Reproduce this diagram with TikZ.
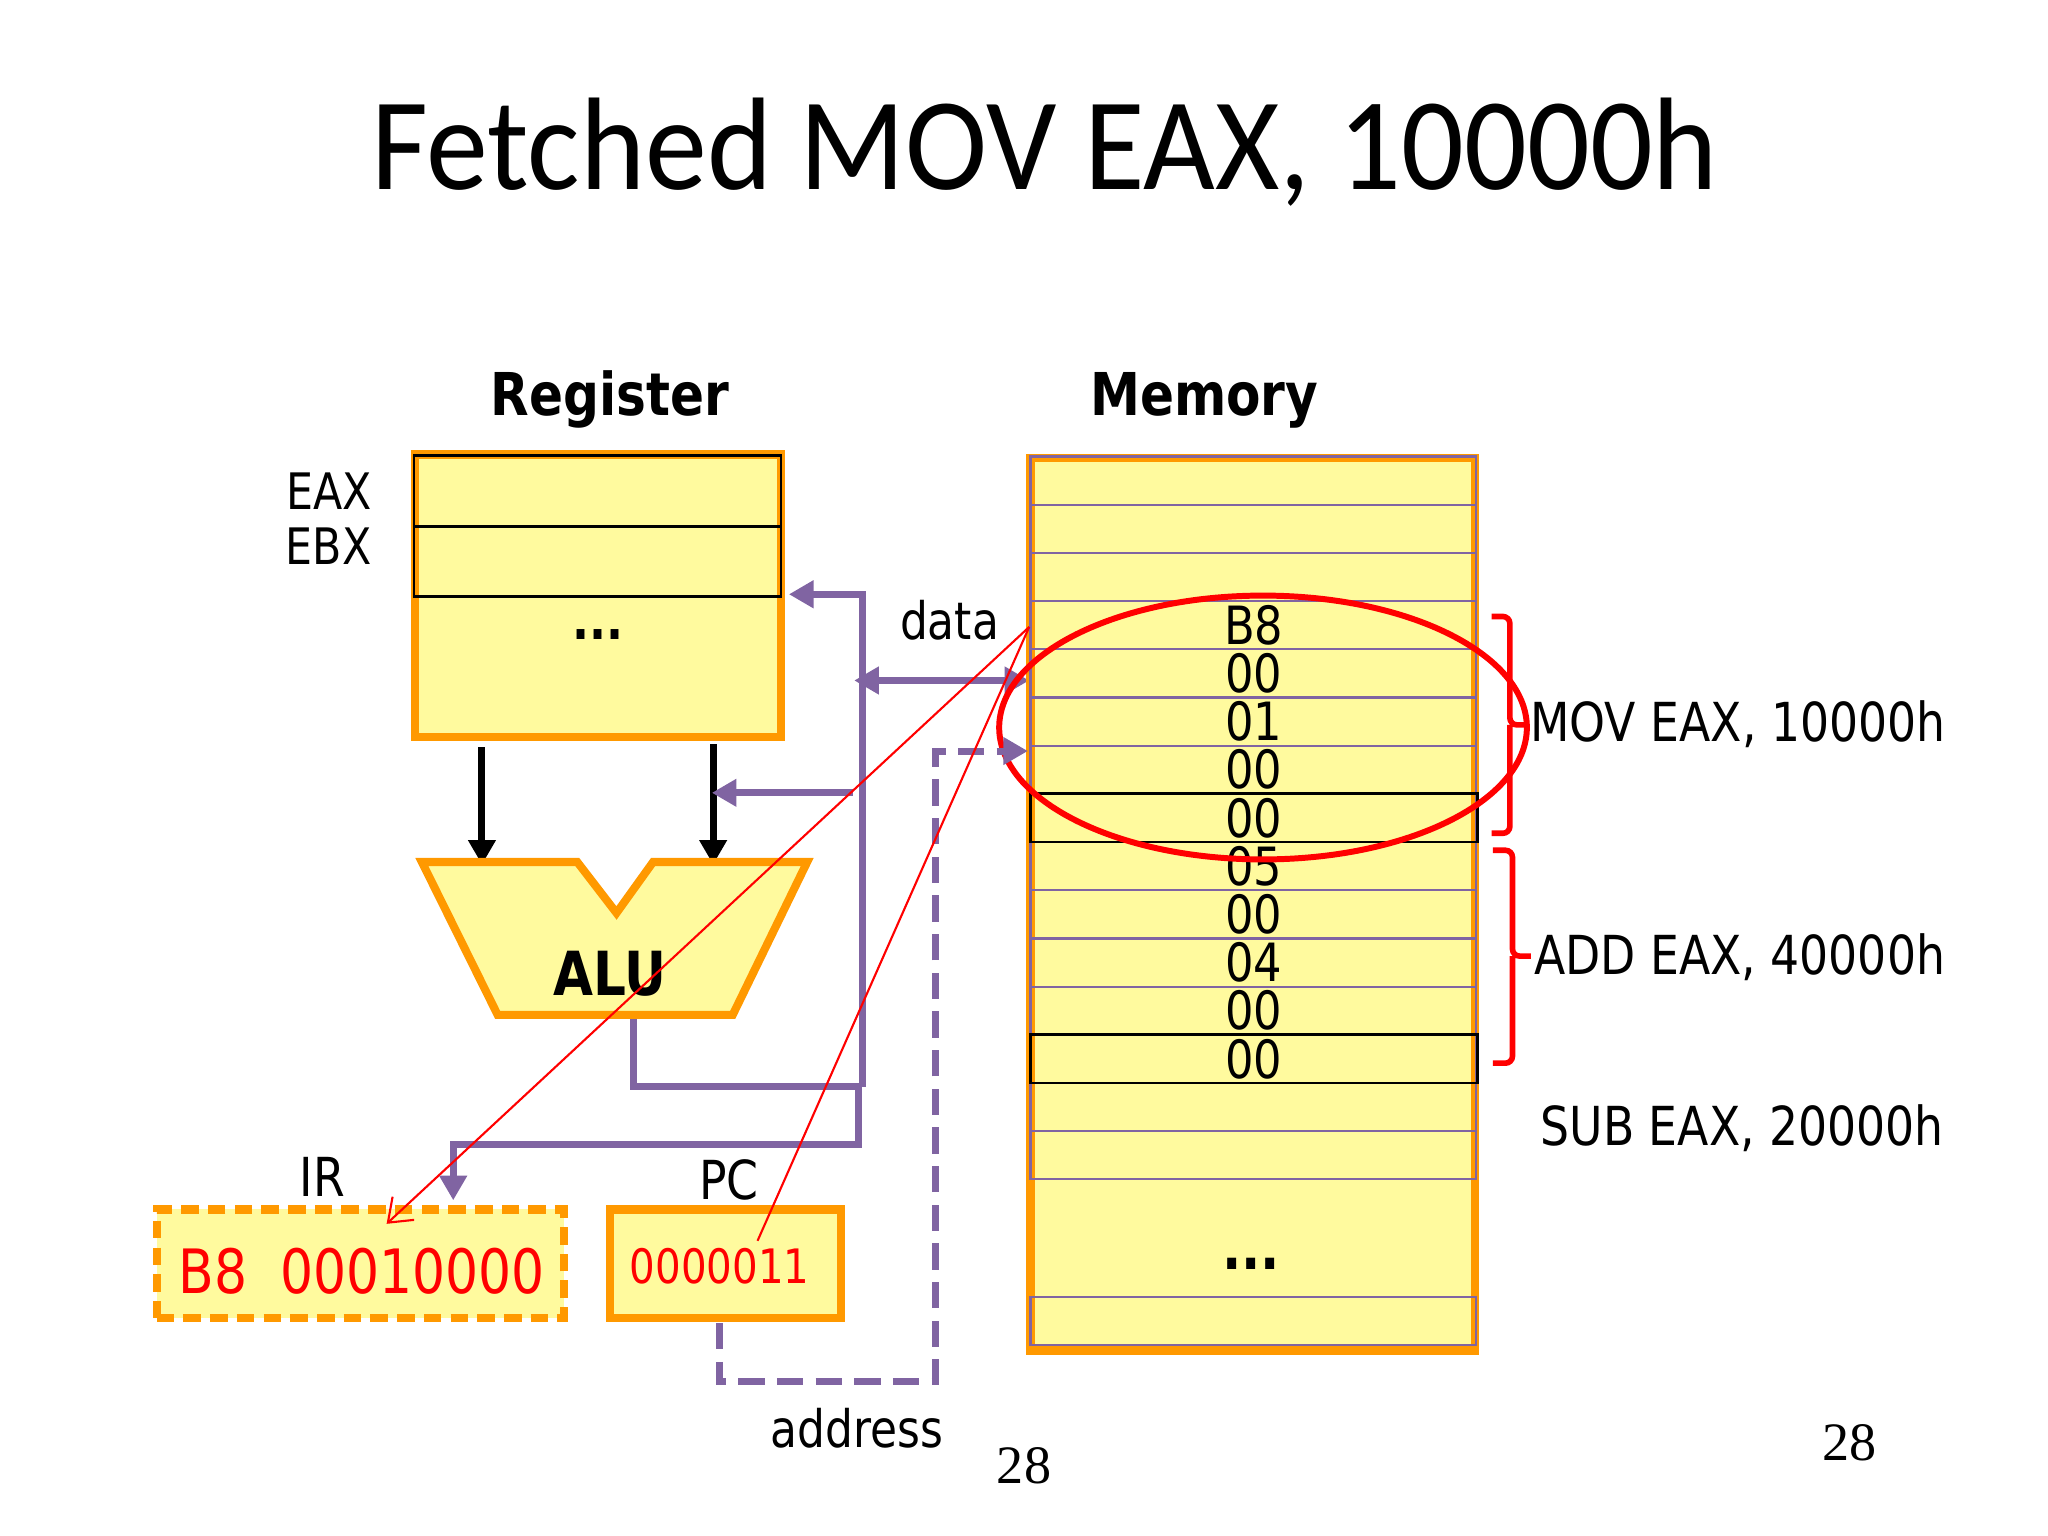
\documentclass[tikz,border=0pt]{standalone}
\usepackage{fontspec}
\setmainfont{DejaVu Sans}[FakeStretch=0.85]
\newfontfamily\titlefont{Carlito}[FakeStretch=0.94]
\newfontfamily\pagefont{Liberation Serif}
\usetikzlibrary{arrows.meta}

\definecolor{boxfill}{HTML}{FFFA9E}
\definecolor{boxline}{HTML}{FF9900}
\definecolor{buscol}{HTML}{8064A2}
\definecolor{markred}{HTML}{FF0000}

\tikzset{
	yellowbox/.style={draw=boxline, fill=boxfill, line width=2.3pt, inner sep=0pt},
	cell/.style={draw=black, line width=0.8pt, inner sep=0pt},
	memrow/.style={draw=buscol, line width=0.6pt},
	bus/.style={draw=buscol, line width=2pt},
	tip/.style={-{Triangle[length=7pt,width=7.5pt]}},
	lbl/.style={inner sep=0pt, font=\fontsize{15}{18}\selectfont},
	boldlbl/.style={inner sep=0pt, font=\fontsize{16.8}{20}\selectfont\bfseries},
	redtxt/.style={inner sep=0pt, text=markred},
}

\begin{document}
\begin{tikzpicture}[x=0.013061cm,y=-0.013061cm]
	\def\u{0.013061cm}
	\def\rowh{36.9}
	\def\rowy{349.5}
	\useasboundingbox (0,0) rectangle (1568,1176);

	% title
	\node[inner sep=0pt, anchor=base, font=\titlefont\fontsize{37.5}{40}\selectfont] (title) at (800,145) {Fetched MOV EAX, 10000h};
	\node[boldlbl, anchor=base] (regt) at (467,318) {Register};
	\node[boldlbl, anchor=base] (memt) at (922,318) {Memory};

	% register file
	\node[yellowbox, minimum width=280*\u, minimum height=216*\u] (reg) at (458,456) {};
	\node[cell, minimum width=281*\u, minimum height=54*\u] (eax) at (457.5,376) {};
	\node[cell, minimum width=281*\u, minimum height=54*\u] (ebx) at (457.5,430) {};
	\node[lbl, anchor=base east, font=\fontsize{14.3}{17}\selectfont] (eaxl) at (285,390) {EAX};
	\node[lbl, anchor=base east, font=\fontsize{14.3}{17}\selectfont] (ebxl) at (285,432) {EBX};
	\node[lbl, anchor=base] (regdots) at (458,490) {\textbf{...}};

	% buses
	\coordinate (btop) at (660,455);
	\coordinate (bmid) at (660,832);
	\coordinate (regin) at (604,455);
	\coordinate (alubot) at (485,777);
	\coordinate (datal) at (654,521);
	\coordinate (datar) at (788,521);
	\coordinate (feedr) at (653,607);
	\coordinate (feedl) at (545,607);
	\coordinate (irin) at (347,919);
	\draw[bus, tip] (bmid) -- (btop) -- (regin);
	\draw[bus, {Triangle[length=7pt,width=7.5pt]}-{Triangle[length=7pt,width=7.5pt]}] (datal) -- (datar);
	\draw[bus] (alubot) |- (bmid);
	\draw[bus, tip] (657,832) -- (657,876) -| (irin);
	\node[lbl, anchor=base, font=\fontsize{14.7}{17}\selectfont] (datat) at (727,490) {data};

	% ALU
	\draw[black, line width=2pt, tip] (369,572) -- (369,662);
	\draw[black, line width=2pt, tip] (546,570) -- (546,662);
	\draw[bus, tip] (feedr) -- (feedl);
	\draw[draw=boxline, fill=boxfill, line width=2.3pt] (323,660) -- (442,660) -- (472,699) -- (500,660) -- (618,660) -- (561,777) -- (381,777) -- cycle;
	\node[boldlbl, anchor=base, font=\fontsize{17.3}{20}\selectfont\bfseries] (alu) at (467,762) {ALU};

	% memory
	\node[yellowbox, minimum width=340*\u, minimum height=683*\u] (mem) at (959,692.5) {};
	\foreach \k in {0,...,14}
		\draw[memrow] (789,{\rowy+\k*\rowh}) rectangle (1130,{\rowy+(\k+1)*\rowh});
	\draw[memrow] (789,993) rectangle (1130,1030);
	\draw[cell] (789,{\rowy+7*\rowh}) rectangle (1131,{\rowy+8*\rowh});
	\draw[cell] (789,{\rowy+12*\rowh}) rectangle (1131,{\rowy+13*\rowh});
	\foreach \k/\b in {3/B8,4/00,5/01,6/00,7/00,8/05,9/00,10/04,11/00,12/00}
		\node[lbl, font=\fontsize{15}{18}\selectfont] (m\k) at (960,{\rowy+(\k+0.5)*\rowh}) {\b};
	\node[lbl, anchor=base, font=\fontsize{17}{20}\selectfont] (memdots) at (958,972) {\textbf{...}};

	% instruction brackets
	\draw[markred, line width=1.6pt, rounded corners=2pt] (1142,472) -| (1156,555) -- (1170,555) (1156,555) |- (1142,638);
	\draw[markred, line width=1.6pt, rounded corners=2pt] (1143,651) -| (1158,732) -- (1172,732) (1158,732) |- (1143,814);
	\node[lbl, anchor=base west, font=\fontsize{15.3}{18}\selectfont] (movl) at (1171,568) {MOV EAX, 10000h};
	\node[lbl, anchor=base west, font=\fontsize{15.3}{18}\selectfont] (addl) at (1174,746) {ADD EAX, 40000h};
	\node[lbl, anchor=base west, font=\fontsize{15.3}{18}\selectfont] (subl) at (1179,877) {SUB EAX, 20000h};
	\draw[markred, line width=1.7pt] (967,557) ellipse [x radius=202, y radius=101];

	% IR and PC
	\node[yellowbox, dash pattern=on 5pt off 2.6pt, minimum width=312*\u, minimum height=83*\u] (ir) at (276,967.5) {};
	\node[yellowbox, minimum width=177*\u, minimum height=83*\u] (pc) at (555.5,967.5) {};
	\node[lbl, anchor=base, font=\fontsize{15.3}{18}\selectfont] (irl) at (247,916) {IR};
	\node[lbl, anchor=base, font=\fontsize{15.3}{18}\selectfont] (pcl) at (558,918) {PC};
	\node[redtxt, anchor=base, font=\fontsize{17.4}{20}\selectfont] (irval) at (277,990) {B8\ \ 00010000};
	\node[redtxt, anchor=base, font=\fontsize{13.5}{16}\selectfont] (pcval) at (551,983) {0000011};

	% address bus
	\coordinate (pcout) at (551,1013);
	\coordinate (memin) at (787,575);
	\draw[bus, dash pattern=on 7.5pt off 3.5pt, tip] (pcout) |- (716,1058) |- (memin);
	\node[lbl, anchor=base, font=\fontsize{14.7}{17}\selectfont] (addrt) at (656,1108) {address};

	% fetch markers
	\coordinate (apex) at (788,480);
	\coordinate (pcend) at (580,950);
	\draw[markred, line width=0.6pt] (pcend) -- (apex);
	\draw[markred, line width=0.6pt, -{Straight Barb[length=6pt,width=9pt]}] (apex) -- (296,937);

	% page numbers
	\node[inner sep=0pt, anchor=base, font=\pagefont\fontsize{15.4}{18}\selectfont] (pg) at (784,1136) {28};
	\node[inner sep=0pt, anchor=base, font=\pagefont\fontsize{15.4}{18}\selectfont] (pgr) at (1416,1118) {28};
\end{tikzpicture}
\end{document}
